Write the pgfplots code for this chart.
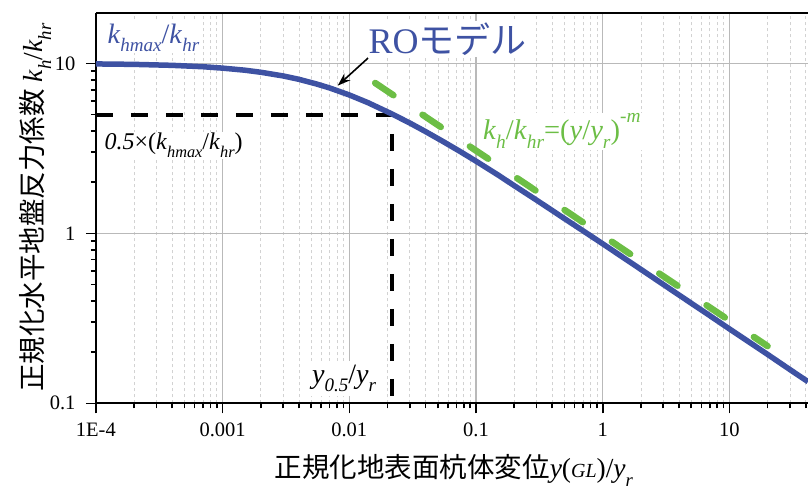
\documentclass[border=0pt]{standalone}
\usepackage{fontspec}
\setmainfont{Liberation Serif}
\newfontfamily\jp{Noto Sans CJK JP}
\usepackage{graphicx}
\usepackage{pgfplots}
\pgfplotsset{compat=1.18}
\usetikzlibrary{arrows.meta}
\definecolor{roblue}{RGB}{62,82,163}
\definecolor{rogreen}{RGB}{108,190,69}
\newcommand{\sbs}[1]{\raisebox{-0.3em}{\scalebox{0.68}{#1}}}
\newcommand{\sps}[1]{\raisebox{0.6em}{\scalebox{0.68}{#1}}}
\newcommand{\fs}[1]{\fontsize{#1}{#1}\selectfont}
\pgfplotstableread{
x y
1e-4 9.93
2e-4 9.87
4e-4 9.74
7e-4 9.56
1e-3 9.38
1.5e-3 9.12
2e-3 8.87
3e-3 8.44
4e-3 8.06
5.5e-3 7.57
7e-3 7.17
1e-2 6.52
1.4e-2 5.88
2.16e-2 5.05
3e-2 4.46
4e-2 3.97
5.5e-2 3.47
7.5e-2 3.03
0.1 2.66
0.15 2.20
0.2 1.91
0.3 1.57
0.5 1.22
0.7 1.035
1 0.868
2 0.614
3 0.501
5 0.388
7 0.328
10 0.274
15 0.224
20 0.194
30 0.158
41.7 0.134
}\rotable
\begin{document}
\begin{tikzpicture}
\begin{axis}[
 name=ax, at={(0,0)}, anchor=south west,
 scale only axis, width=712.1pt, height=390.3pt,
 xmode=log, ymode=log,
 xmin=1e-4, xmax=41.7, ymin=0.1, ymax=19.8,
 axis lines=left, axis line style={-, line width=2.2pt, black},
 xtick={1e-4,1e-3,1e-2,1e-1,1,10},
 xticklabels={1E-4,0.001,0.01,0.1,1,10},
 ytick={0.1,1,10}, yticklabels={0.1,1,10},
 minor xtick={2e-4,3e-4,4e-4,5e-4,6e-4,7e-4,8e-4,9e-4,0.002,0.003,0.004,0.005,0.006,0.007,0.008,0.009,0.02,0.03,0.04,0.05,0.06,0.07,0.08,0.09,0.2,0.3,0.4,0.5,0.6,0.7,0.8,0.9,2,3,4,5,6,7,8,9,20,30,40},
 minor ytick={0.2,0.3,0.4,0.5,0.6,0.7,0.8,0.9,2,3,4,5,6,7,8,9},
 tick align=outside, major tick length=10pt, minor tick length=5pt,
 every tick/.style={black, line width=1.6pt},
 xmajorgrids, ymajorgrids, xminorgrids,
 major grid style={gray!55, line width=1.1pt},
 minor grid style={gray!35, line width=0.7pt, dash pattern=on 3pt off 3pt},
 tick label style={font=\fs{20.5}},
 xticklabel style={yshift=-6pt},
 yticklabel style={xshift=-7pt},
 /pgf/number format/assume math mode=true,
]
\node[anchor=base west, text=roblue, fill=white, inner sep=1.5pt, font=\fs{28}] at (rel axis cs:0.0140,0.9224) {\textit{k}\sbs{\textit{hmax}}/\textit{k}\sbs{\textit{hr}}};
\node[anchor=base west, text=roblue, fill=white, inner sep=1.5pt, font=\fs{36}] at (rel axis cs:0.3806,0.8968) {RO{\jp モデル}};
\node[anchor=base west, text=black, fill=white, inner sep=1.5pt, font=\fs{24}] at (rel axis cs:0.0098,0.649) {\textit{0.5}×(\textit{k}\sbs{\textit{hmax}}/\textit{k}\sbs{\textit{hr}})};
\node[anchor=base west, text=rogreen, fill=white, inner sep=1pt, font=\fs{28.5}] at (rel axis cs:0.5421,0.6746) {\textit{k}\sbs{\textit{h}}/\textit{k}\sbs{\textit{hr}}=(\textit{y}/\textit{y}\sbs{\textit{r}})\sps{\textit{-m}}};
\node[anchor=base west, text=black, fill=white, inner sep=4pt, font=\fs{28}] at (rel axis cs:0.2977,0.0512) {\textit{y}\sbs{\textit{0.5}}/\textit{y}\sbs{\textit{r}}};
\addplot[black, line width=4pt, dash pattern=on 17pt off 18pt] coordinates {(1e-4,5) (0.0216,5) (0.0216,0.1)};
\addplot[roblue, line width=5.5pt, line join=round] table[x=x,y=y] {\rotable};
\addplot[rogreen, line width=6.5pt, line cap=round, dash pattern=on 22pt off 35pt] coordinates {(0.016,7.67) (20,0.217)};
\draw[-{Stealth[length=13pt,width=9pt]}, line width=1.6pt, black] (axis cs:0.01406,10.75) -- (axis cs:0.0081,7.4);
\end{axis}
\draw[line width=2.2pt] (ax.north west) -- (ax.north east);
\node[anchor=base, rotate=90, font=\fs{27.5}] at (-53pt,195.8pt) {{\jp 正規化水平地盤反力係数} \textit{k}\sbs{\textit{h}}/\textit{k}\sbs{\textit{hr}}};
\node[anchor=base, font=\fs{27.5}] at (358pt,-74.5pt) {{\jp 正規化地表面杭体変位}\textit{y}({\fs{20}\textit{GL}})/\textit{y}\sbs{\textit{r}}};
\pgfresetboundingbox
\useasboundingbox (-95.9pt,-85.7pt) rectangle (712.1pt,403.3pt);
\end{tikzpicture}
\end{document}
